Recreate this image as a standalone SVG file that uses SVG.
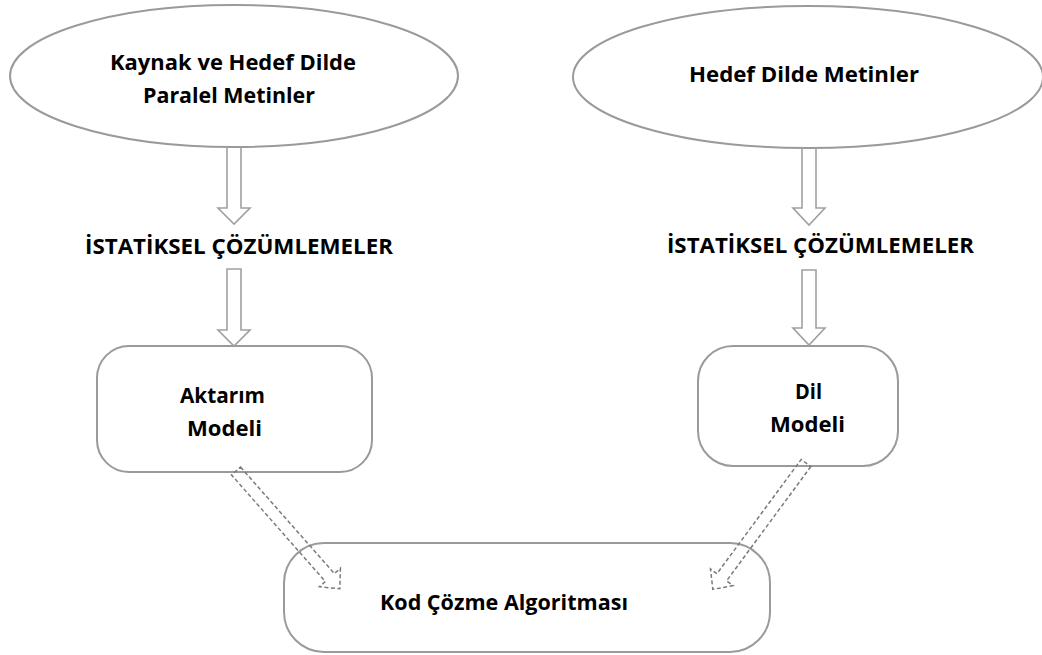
<svg xmlns="http://www.w3.org/2000/svg" width="1042" height="655" viewBox="0 0 1042 655">
<style>
.shape{fill:#fff;stroke:#9a9a9a;stroke-width:2}
.lbl{font-family:"Open Sans","Liberation Sans",sans-serif;font-weight:700;font-size:21.5px;fill:#000;text-anchor:middle}
.arr{fill:none;stroke:#a0a0a0;stroke-width:1.6}
.darr{fill:none;stroke:#7a7a7a;stroke-width:1.5;stroke-dasharray:4 2.5}
</style>
<rect width="1042" height="655" fill="#fff"/>
<g id="node-kaynak">
<ellipse class="shape" cx="234" cy="76" rx="224" ry="71"/>
<text class="lbl" x="233" y="70" textLength="246" lengthAdjust="spacingAndGlyphs">Kaynak ve Hedef Dilde</text>
<text class="lbl" x="229" y="103" textLength="172" lengthAdjust="spacingAndGlyphs">Paralel Metinler</text>
</g>
<g id="node-hedef">
<ellipse class="shape" cx="808" cy="77" rx="235" ry="71"/>
<text class="lbl" x="804" y="82" textLength="230" lengthAdjust="spacingAndGlyphs">Hedef Dilde Metinler</text>
</g>
<g id="node-ist-left">
<text class="lbl" x="239" y="254" textLength="308" lengthAdjust="spacingAndGlyphs">İSTATİKSEL ÇÖZÜMLEMELER</text>
</g>
<g id="node-ist-right">
<text class="lbl" x="820.5" y="253" textLength="307" lengthAdjust="spacingAndGlyphs">İSTATİKSEL ÇÖZÜMLEMELER</text>
</g>
<g id="node-aktarim">
<rect class="shape" x="97" y="346" width="275" height="126" rx="32"/>
<text class="lbl" x="222.5" y="403" textLength="85" lengthAdjust="spacingAndGlyphs">Aktarım</text>
<text class="lbl" x="224.5" y="436" textLength="75" lengthAdjust="spacingAndGlyphs">Modeli</text>
</g>
<g id="node-dil">
<rect class="shape" x="698" y="346" width="200" height="120" rx="35"/>
<text class="lbl" x="808.5" y="399" textLength="27" lengthAdjust="spacingAndGlyphs">Dil</text>
<text class="lbl" x="807.5" y="432" textLength="75" lengthAdjust="spacingAndGlyphs">Modeli</text>
</g>
<g id="node-kod">
<rect class="shape" x="284" y="543" width="486" height="109" rx="40"/>
<text class="lbl" x="504" y="610" textLength="248" lengthAdjust="spacingAndGlyphs">Kod Çözme Algoritması</text>
</g>
<g id="connectors">
<path class="arr" d="M227,147 L227,208 L218,208 L234,224 L250,208 L241,208 L241,147"/>
<path class="arr" d="M227,269 L227,330 L218,330 L234,346 L250,330 L241,330 L241,269 Z"/>
<path class="arr" d="M802,147 L802,208 L793,208 L809,225 L825,208 L816,208 L816,147"/>
<path class="arr" d="M802,270 L802,328 L793,328 L809,345 L825,328 L816,328 L816,270 Z"/>
<path class="darr" transform="translate(236,471) rotate(48.6)" d="M0,-6 L142,-6 L142,-14 L157,0 L142,14 L142,6 L0,6 Z"/>
<path class="darr" transform="translate(806,463) rotate(126.4)" d="M0,-6 L142,-6 L142,-14 L157,0 L142,14 L142,6 L0,6 Z"/>
</g>
</svg>
